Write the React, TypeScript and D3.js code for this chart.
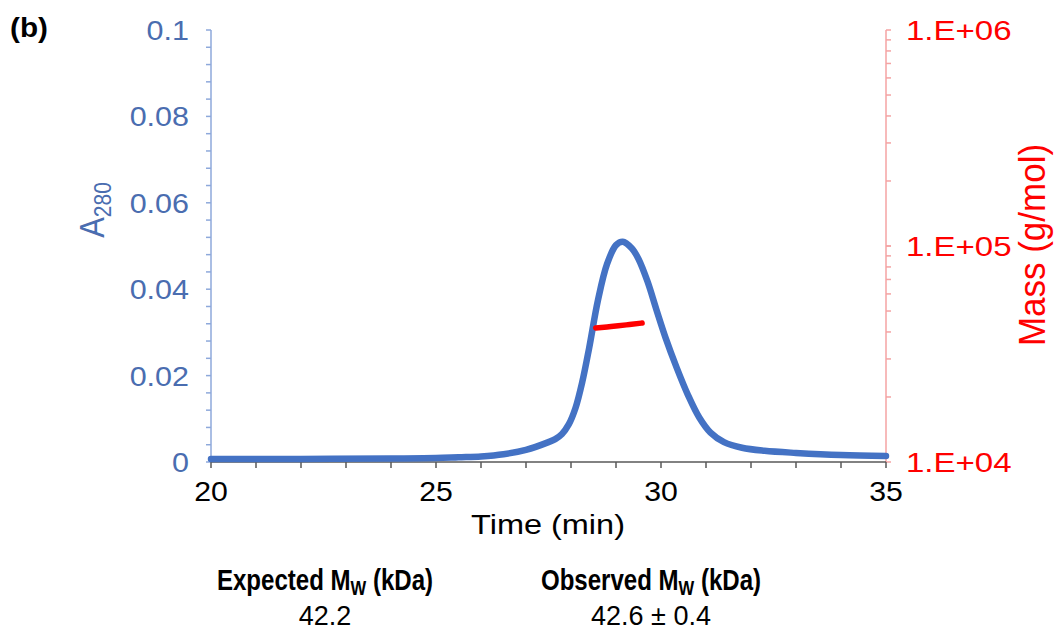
import React from "react";
import * as d3 from "d3";

// ---- data ----
const timeMin = [20, 22, 24, 25, 25.5, 26, 26.5, 27, 27.5, 27.65, 27.8, 27.95, 28.1, 28.25, 28.4, 28.6, 28.8, 29.0, 29.15, 29.35, 29.5, 29.7, 29.9, 30.1, 30.35, 30.6, 30.85, 31.1, 31.4, 31.8, 32.3, 33, 34, 35];
const a280 = [0.0007, 0.0007, 0.0008, 0.0009, 0.0011, 0.0013, 0.0018, 0.0028, 0.0046, 0.0053, 0.0065, 0.0087, 0.0125, 0.0185, 0.0262, 0.0375, 0.0458, 0.0502, 0.0510, 0.0495, 0.0470, 0.0418, 0.0352, 0.0288, 0.0218, 0.0155, 0.0103, 0.0068, 0.0046, 0.0033, 0.0026, 0.0021, 0.0016, 0.0014];
const massTime = [28.55, 28.8, 29.05, 29.3, 29.58];
const massValues = [41700, 42200, 42700, 43300, 44000];
const xTicks = [20, 25, 30, 35];
const leftTicks = [0, 0.02, 0.04, 0.06, 0.08, 0.1];
const leftTickLabels = ["0", "0.02", "0.04", "0.06", "0.08", "0.1"];
const rightTicks = [1e4, 1e5, 1e6];
const rightTickLabels = ["1.E+04", "1.E+05", "1.E+06"];
const tableHeaders = ["Expected", "Observed"];
const tableValues = ["42.2", "42.6 ± 0.4"];

const L = 211, R = 886, T = 30, B = 462;
const BLUE = "#4472C4";
const BLUE_TXT = "#4A6DB0";
const BLUE_AX = "#8EA9DB";
const RED = "#FF0000";
const RED_AX = "#F4A3A3";
const FONT = "'Liberation Sans', Arial, sans-serif";

function T2({ x, y, anchor = "middle", size, sx = 1.15, fill = "#000", weight = "normal", children }: any) {
  return (
    <text transform={`translate(${x},${y}) scale(${sx},1)`} textAnchor={anchor} fontSize={size} fill={fill} fontWeight={weight} fontFamily={FONT}>
      {children}
    </text>
  );
}

export default function App() {
  const x = d3.scaleLinear().domain([20, 35]).range([L, R]);
  const y = d3.scaleLinear().domain([0, 0.1]).range([B, T]);
  const yR = d3.scaleLog().domain([1e4, 1e6]).range([B, T]);

  const pts = timeMin.map((t, i) => [t, a280[i]] as [number, number]);
  const line = d3.line<[number, number]>().x((d) => x(d[0])).y((d) => y(d[1])).curve(d3.curveCatmullRom.alpha(0.5));
  const mpts = massTime.map((t, i) => [t, massValues[i]] as [number, number]);
  const mline = d3.line<[number, number]>().x((d) => x(d[0])).y((d) => yR(d[1])).curve(d3.curveMonotoneX);

  const leftMinor = d3.range(0, 0.1001, 0.004);
  const xMinor = d3.range(20, 35.01, 1);
  const rightMinor: number[] = [];
  for (const dec of [1e4, 1e5]) for (let k = 1; k <= 10; k++) rightMinor.push(dec * k);

  return (
    <svg width={1054} height={633} style={{ display: "block", position: "absolute", left: 0, top: 0, background: "#fff" }}>
      {/* left axis */}
      <line x1={L} x2={L} y1={T} y2={B} stroke={BLUE_AX} strokeWidth={1.5} />
      {leftMinor.map((v, i) => (
        <line key={i} x1={L - 5} x2={L} y1={y(v)} y2={y(v)} stroke={BLUE_AX} strokeWidth={1.5} />
      ))}
      {leftTicks.map((v, i) => (
        <T2 key={i} x={L - 22} y={y(v) + 10} anchor="end" size={27} sx={1.13} fill={BLUE_TXT}>{leftTickLabels[i]}</T2>
      ))}
      <text transform={`translate(104,210) rotate(-90) scale(1,1.12)`} textAnchor="middle" fontSize={31} fill={BLUE_TXT} fontFamily={FONT}>
        A<tspan fontSize={21} dy={6}>280</tspan>
      </text>

      {/* right axis */}
      <line x1={R} x2={R} y1={T} y2={B} stroke={RED_AX} strokeWidth={1.5} />
      {rightMinor.map((v, i) => (
        <line key={i} x1={R} x2={R + 5} y1={yR(v)} y2={yR(v)} stroke={RED_AX} strokeWidth={1.5} />
      ))}
      {rightTicks.map((v, i) => (
        <T2 key={i} x={R + 20} y={yR(v) + 10} anchor="start" size={28} sx={1.18} fill={RED}>{rightTickLabels[i]}</T2>
      ))}
      <text transform={`translate(1045,245) rotate(-90) scale(1,1.05)`} textAnchor="middle" fontSize={35} fill={RED} fontFamily={FONT}>
        Mass (g/mol)
      </text>

      {/* x axis */}
      <line x1={L} x2={R} y1={B} y2={B} stroke="#595959" strokeWidth={1.5} />
      {xMinor.map((v, i) => (
        <line key={i} x1={x(v)} x2={x(v)} y1={B} y2={B + 6} stroke="#595959" strokeWidth={1.5} />
      ))}
      {xTicks.map((v, i) => (
        <T2 key={i} x={x(v)} y={B + 39} size={28} sx={1.08}>{String(v)}</T2>
      ))}
      <T2 x={548} y={534} size={28} sx={1.16}>Time (min)</T2>

      {/* series */}
      <path d={line(pts) || ""} fill="none" stroke={BLUE} strokeWidth={6.5} strokeLinejoin="round" strokeLinecap="round" />
      <path d={mline(mpts) || ""} fill="none" stroke={RED} strokeWidth={5.5} strokeLinecap="round" />

      {/* panel label */}
      <T2 x={10} y={37} anchor="start" size={27} sx={1.1} weight="bold">(b)</T2>

      {/* table */}
      {tableHeaders.map((h, i) => (
        <T2 key={i} x={i === 0 ? 325 : 651} y={590} size={29} sx={0.83} weight="bold">
          {h} M<tspan fontSize={20} dy={5}>W</tspan><tspan dy={-5}> (kDa)</tspan>
        </T2>
      ))}
      {tableValues.map((v, i) => (
        <T2 key={i} x={i === 0 ? 325 : 651} y={625} size={27} sx={1.0}>{v}</T2>
      ))}
    </svg>
  );
}
